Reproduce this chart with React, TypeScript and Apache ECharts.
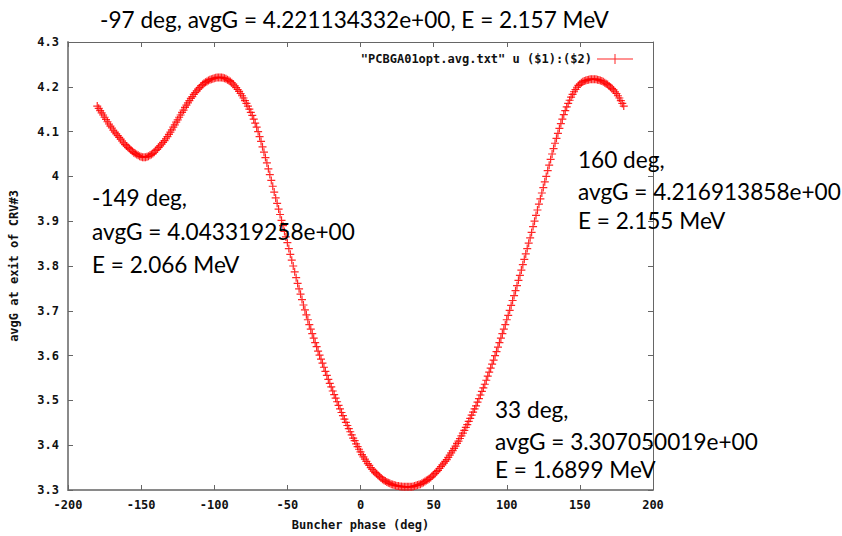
import React, { useEffect, useRef } from "react";
import * as echarts from "echarts";

const phaseDeg = [
  -180, -179, -178, -177, -176, -175, -174, -173, -172, -171,
  -170, -169, -168, -167, -166, -165, -164, -163, -162, -161,
  -160, -159, -158, -157, -156, -155, -154, -153, -152, -151,
  -150, -149, -148, -147, -146, -145, -144, -143, -142, -141,
  -140, -139, -138, -137, -136, -135, -134, -133, -132, -131,
  -130, -129, -128, -127, -126, -125, -124, -123, -122, -121,
  -120, -119, -118, -117, -116, -115, -114, -113, -112, -111,
  -110, -109, -108, -107, -106, -105, -104, -103, -102, -101,
  -100, -99, -98, -97, -96, -95, -94, -93, -92, -91,
  -90, -89, -88, -87, -86, -85, -84, -83, -82, -81,
  -80, -79, -78, -77, -76, -75, -74, -73, -72, -71,
  -70, -69, -68, -67, -66, -65, -64, -63, -62, -61,
  -60, -59, -58, -57, -56, -55, -54, -53, -52, -51,
  -50, -49, -48, -47, -46, -45, -44, -43, -42, -41,
  -40, -39, -38, -37, -36, -35, -34, -33, -32, -31,
  -30, -29, -28, -27, -26, -25, -24, -23, -22, -21,
  -20, -19, -18, -17, -16, -15, -14, -13, -12, -11,
  -10, -9, -8, -7, -6, -5, -4, -3, -2, -1,
  0, 1, 2, 3, 4, 5, 6, 7, 8, 9,
  10, 11, 12, 13, 14, 15, 16, 17, 18, 19,
  20, 21, 22, 23, 24, 25, 26, 27, 28, 29,
  30, 31, 32, 33, 34, 35, 36, 37, 38, 39,
  40, 41, 42, 43, 44, 45, 46, 47, 48, 49,
  50, 51, 52, 53, 54, 55, 56, 57, 58, 59,
  60, 61, 62, 63, 64, 65, 66, 67, 68, 69,
  70, 71, 72, 73, 74, 75, 76, 77, 78, 79,
  80, 81, 82, 83, 84, 85, 86, 87, 88, 89,
  90, 91, 92, 93, 94, 95, 96, 97, 98, 99,
  100, 101, 102, 103, 104, 105, 106, 107, 108, 109,
  110, 111, 112, 113, 114, 115, 116, 117, 118, 119,
  120, 121, 122, 123, 124, 125, 126, 127, 128, 129,
  130, 131, 132, 133, 134, 135, 136, 137, 138, 139,
  140, 141, 142, 143, 144, 145, 146, 147, 148, 149,
  150, 151, 152, 153, 154, 155, 156, 157, 158, 159,
  160, 161, 162, 163, 164, 165, 166, 167, 168, 169,
  170, 171, 172, 173, 174, 175, 176, 177, 178, 179,
  180,
];

const avgG = [
  4.157, 4.152, 4.147, 4.142, 4.137, 4.132, 4.127, 4.122, 4.117, 4.112,
  4.108, 4.103, 4.099, 4.095, 4.091, 4.087, 4.083, 4.079, 4.075, 4.071,
  4.068, 4.065, 4.062, 4.059, 4.056, 4.053, 4.051, 4.049, 4.047, 4.045,
  4.044, 4.043, 4.043, 4.043, 4.044, 4.045, 4.047, 4.049, 4.051, 4.054,
  4.058, 4.061, 4.065, 4.068, 4.072, 4.076, 4.080, 4.084, 4.089, 4.094,
  4.099, 4.104, 4.110, 4.115, 4.121, 4.126, 4.132, 4.137, 4.143, 4.148,
  4.154, 4.159, 4.164, 4.169, 4.174, 4.178, 4.183, 4.187, 4.191, 4.195,
  4.198, 4.202, 4.205, 4.208, 4.210, 4.212, 4.214, 4.216, 4.217, 4.218,
  4.219, 4.220, 4.221, 4.221, 4.221, 4.221, 4.220, 4.219, 4.218, 4.216,
  4.214, 4.212, 4.209, 4.206, 4.202, 4.198, 4.194, 4.190, 4.185, 4.180,
  4.175, 4.169, 4.163, 4.157, 4.150, 4.143, 4.136, 4.128, 4.119, 4.110,
  4.100, 4.089, 4.078, 4.066, 4.054, 4.042, 4.030, 4.017, 4.004, 3.991,
  3.978, 3.965, 3.952, 3.940, 3.927, 3.915, 3.902, 3.890, 3.877, 3.865,
  3.852, 3.839, 3.826, 3.813, 3.800, 3.787, 3.774, 3.761, 3.749, 3.737,
  3.725, 3.713, 3.702, 3.691, 3.680, 3.669, 3.659, 3.649, 3.639, 3.629,
  3.620, 3.610, 3.601, 3.592, 3.583, 3.574, 3.565, 3.556, 3.547, 3.538,
  3.530, 3.521, 3.513, 3.505, 3.497, 3.489, 3.481, 3.473, 3.466, 3.458,
  3.451, 3.444, 3.437, 3.430, 3.423, 3.416, 3.410, 3.403, 3.397, 3.391,
  3.385, 3.379, 3.374, 3.369, 3.364, 3.359, 3.355, 3.350, 3.346, 3.342,
  3.339, 3.336, 3.333, 3.330, 3.327, 3.324, 3.322, 3.320, 3.318, 3.316,
  3.315, 3.313, 3.312, 3.311, 3.310, 3.309, 3.309, 3.308, 3.308, 3.307,
  3.307, 3.307, 3.307, 3.307, 3.307, 3.307, 3.308, 3.309, 3.310, 3.311,
  3.312, 3.313, 3.315, 3.317, 3.319, 3.321, 3.323, 3.325, 3.328, 3.331,
  3.334, 3.337, 3.341, 3.344, 3.348, 3.352, 3.356, 3.360, 3.364, 3.368,
  3.373, 3.378, 3.383, 3.388, 3.393, 3.398, 3.404, 3.409, 3.415, 3.421,
  3.427, 3.433, 3.440, 3.446, 3.453, 3.460, 3.467, 3.474, 3.481, 3.488,
  3.496, 3.504, 3.512, 3.520, 3.528, 3.536, 3.545, 3.554, 3.563, 3.572,
  3.581, 3.590, 3.600, 3.609, 3.619, 3.629, 3.639, 3.649, 3.659, 3.669,
  3.680, 3.690, 3.701, 3.712, 3.723, 3.734, 3.745, 3.756, 3.768, 3.779,
  3.791, 3.803, 3.815, 3.827, 3.839, 3.851, 3.863, 3.875, 3.888, 3.900,
  3.913, 3.925, 3.938, 3.950, 3.963, 3.975, 3.988, 4.000, 4.013, 4.025,
  4.038, 4.050, 4.062, 4.074, 4.085, 4.096, 4.107, 4.118, 4.128, 4.138,
  4.147, 4.155, 4.163, 4.170, 4.177, 4.183, 4.189, 4.194, 4.199, 4.203,
  4.206, 4.209, 4.211, 4.213, 4.214, 4.215, 4.216, 4.217, 4.217, 4.217,
  4.217, 4.217, 4.216, 4.215, 4.214, 4.213, 4.211, 4.209, 4.207, 4.205,
  4.202, 4.199, 4.196, 4.193, 4.189, 4.185, 4.180, 4.175, 4.169, 4.163,
  4.157,
];

const seriesName = '"PCBGA01opt.avg.txt" u ($1):($2)';
const xAxisName = "Buncher phase (deg)";
const yAxisName = "avgG at exit of CRV#3";
const titleText = "-97 deg, avgG = 4.221134332e+00, E = 2.157 MeV";

const noteLeft = ["-149 deg,", "avgG = 4.043319258e+00", "E = 2.066 MeV"];
const noteRight = ["160 deg,", "avgG = 4.216913858e+00", "E = 2.155 MeV"];
const noteBottom = ["33 deg,", "avgG = 3.307050019e+00", "E = 1.6899 MeV"];

const MONO = "'DejaVu Sans Mono', monospace";
const NOTE_FONT = "Lato, 'Open Sans', sans-serif";
const NOTE_SIZE = 22.6;
const PLUS = "path://M0,3.4H8V4.6H0Z M3.4,0H4.6V8H3.4Z";
const LEGEND_ICON = "path://M0,4.5H36V5.5H0Z M17.5,0H18.5V10H17.5Z";

function noteTexts(lines: string[], x: number, ys: number[]) {
  return lines.map((t, i) => ({
    type: "text",
    left: x,
    top: ys[i],
    z: 100,
    style: {
      text: t,
      fill: "#000",
      fontSize: NOTE_SIZE,
      fontFamily: NOTE_FONT,
    },
  }));
}

export default function App() {
  const ref = useRef<HTMLDivElement>(null);
  useEffect(() => {
    document.body.style.margin = "0";
    const chart = echarts.init(ref.current!, null, { renderer: "svg" });
    const data = phaseDeg.map((p, i) => [p, avgG[i]]);
    const axisLabelStyle = {
      fontFamily: MONO,
      fontSize: 12,
      fontWeight: "bold" as const,
      color: "#111",
    };
    chart.setOption({
      animation: false,
      backgroundColor: "#fff",
      title: {
        text: titleText,
        left: 95,
        top: 3,
        textStyle: { fontFamily: NOTE_FONT, fontSize: NOTE_SIZE, fontWeight: "normal", color: "#000" },
      },
      legend: {
        right: 204,
        top: 48,
        align: "right",
        itemWidth: 36,
        itemHeight: 10,
        itemGap: 5,
        data: [{ name: seriesName, icon: LEGEND_ICON }],
        textStyle: { fontFamily: MONO, fontSize: 12, fontWeight: "bold", color: "#111" },
      },
      grid: { left: 68, right: 189, top: 42, bottom: 43, containLabel: false },
      xAxis: [
        {
          type: "value",
          min: -200,
          max: 200,
          interval: 50,
          position: "bottom",
          name: xAxisName,
          nameLocation: "middle",
          nameGap: 29,
          nameTextStyle: axisLabelStyle,
          axisLine: { show: true, onZero: false, lineStyle: { color: "#8a8a8a", width: 2 } },
          axisTick: { show: true, inside: true, length: 5, lineStyle: { color: "#666", width: 1 } },
          axisLabel: { ...axisLabelStyle, margin: 9 },
          splitLine: { show: false },
        },
        {
          type: "value",
          min: -200,
          max: 200,
          interval: 50,
          position: "top",
          axisLine: { show: true, onZero: false, lineStyle: { color: "#666", width: 1 } },
          axisTick: { show: true, inside: true, length: 5, lineStyle: { color: "#666", width: 1 } },
          axisLabel: { show: false },
          splitLine: { show: false },
        },
      ],
      yAxis: [
        {
          type: "value",
          min: 3.3,
          max: 4.3,
          interval: 0.1,
          position: "left",
          name: yAxisName,
          nameLocation: "middle",
          nameGap: 48,
          nameTextStyle: axisLabelStyle,
          axisLine: { show: true, onZero: false, lineStyle: { color: "#8a8a8a", width: 2 } },
          axisTick: { show: true, inside: true, length: 5, lineStyle: { color: "#666", width: 1 } },
          axisLabel: {
            ...axisLabelStyle,
            margin: 9,
            formatter: (v: number) => String(parseFloat(v.toFixed(1))),
          },
          splitLine: { show: false },
        },
        {
          type: "value",
          min: 3.3,
          max: 4.3,
          interval: 0.1,
          position: "right",
          axisLine: { show: true, onZero: false, lineStyle: { color: "#666", width: 1 } },
          axisTick: { show: true, inside: true, length: 5, lineStyle: { color: "#666", width: 1 } },
          axisLabel: { show: false },
          splitLine: { show: false },
        },
      ],
      series: [
        {
          name: seriesName,
          type: "scatter",
          xAxisIndex: 0,
          yAxisIndex: 0,
          data,
          symbol: PLUS,
          symbolSize: 8,
          itemStyle: { color: "#ff0000", opacity: 0.85 },
        },
      ],
      graphic: [
        ...noteTexts(noteLeft, 92, [186, 220, 253]),
        ...noteTexts(noteRight, 578, [148, 180, 209]),
        ...noteTexts(noteBottom, 495, [398, 430, 458]),
      ],
    });
    return () => chart.dispose();
  }, []);
  return <div ref={ref} style={{ position: "absolute", left: 0, top: 0, width: 842, height: 536 }} />;
}
